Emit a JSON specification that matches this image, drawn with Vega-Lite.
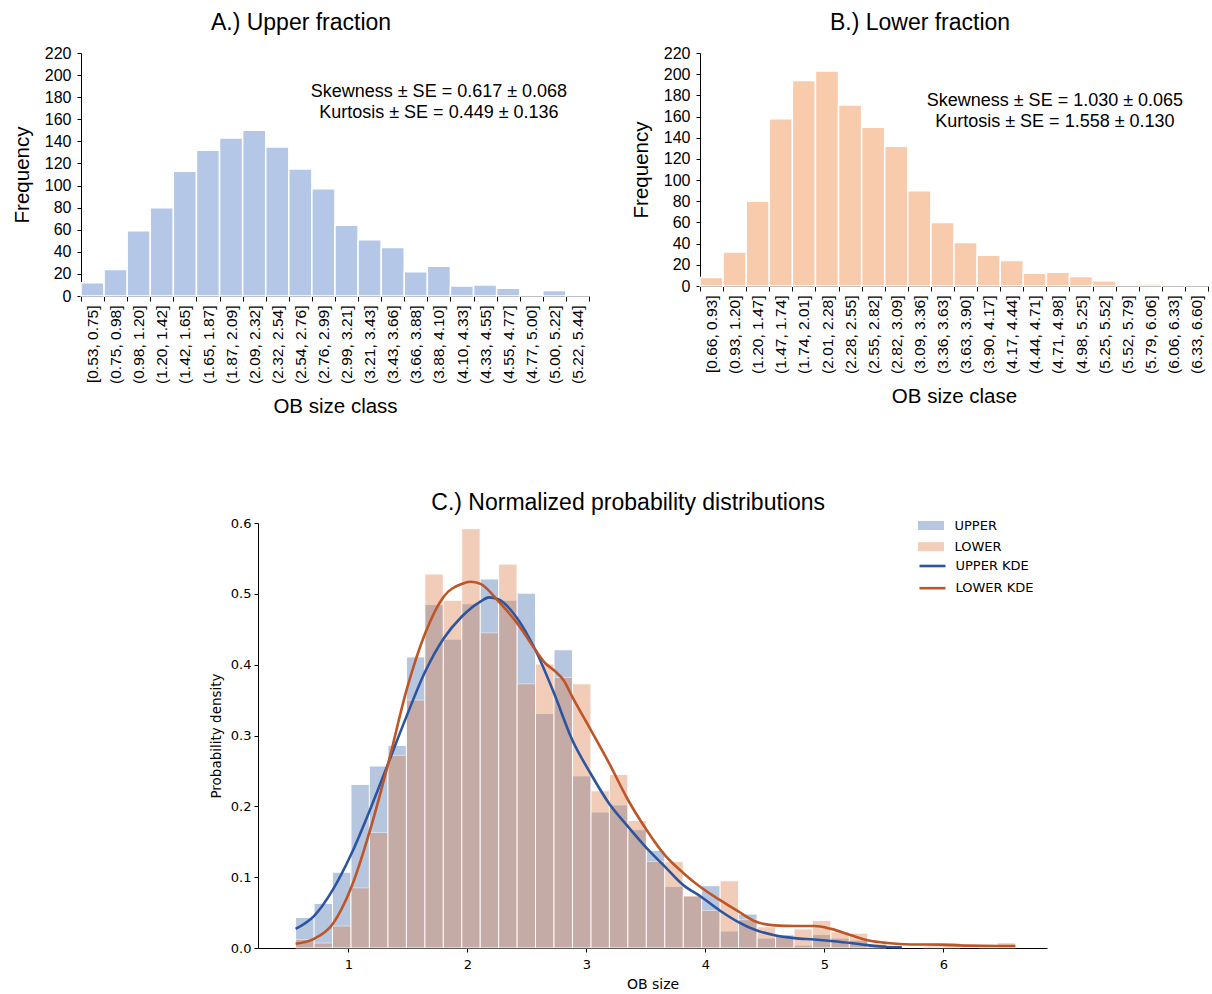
{
  "$schema": "https://vega.github.io/schema/vega-lite/v6.json",
  "background": "white",
  "padding": {"left": 12, "top": 12, "right": 0, "bottom": 0},
  "config": {
    "view": {"stroke": null},
    "font": "Liberation Sans",
    "axis": {"grid": false, "domainColor": "#000", "tickColor": "#000", "labelColor": "#000", "titleColor": "#000", "titleFontWeight": "normal", "labelOverlap": false},
    "axisY": {"labelOverlap": false},
    "axisQuantitative": {"labelOverlap": false},
    "title": {"fontWeight": "normal", "color": "#000", "frame": "bounds"}
  },
  "datasets": {
    "upperCounts": [
      {"cls": "[0.53, 0.75]", "freq": 12}, {"cls": "(0.75, 0.98]", "freq": 24}, {"cls": "(0.98, 1.20]", "freq": 59},
      {"cls": "(1.20, 1.42]", "freq": 80}, {"cls": "(1.42, 1.65]", "freq": 113}, {"cls": "(1.65, 1.87]", "freq": 132},
      {"cls": "(1.87, 2.09]", "freq": 143}, {"cls": "(2.09, 2.32]", "freq": 150}, {"cls": "(2.32, 2.54]", "freq": 135},
      {"cls": "(2.54, 2.76]", "freq": 115}, {"cls": "(2.76, 2.99]", "freq": 97}, {"cls": "(2.99, 3.21]", "freq": 64},
      {"cls": "(3.21, 3.43]", "freq": 51}, {"cls": "(3.43, 3.66]", "freq": 44}, {"cls": "(3.66, 3.88]", "freq": 22},
      {"cls": "(3.88, 4.10]", "freq": 27}, {"cls": "(4.10, 4.33]", "freq": 9}, {"cls": "(4.33, 4.55]", "freq": 10},
      {"cls": "(4.55, 4.77]", "freq": 7}, {"cls": "(4.77, 5.00]", "freq": 1}, {"cls": "(5.00, 5.22]", "freq": 5},
      {"cls": "(5.22, 5.44]", "freq": 1}
    ],
    "lowerCounts": [
      {"cls": "[0.66, 0.93]", "freq": 8}, {"cls": "(0.93, 1.20]", "freq": 32}, {"cls": "(1.20, 1.47]", "freq": 80},
      {"cls": "(1.47, 1.74]", "freq": 158}, {"cls": "(1.74, 2.01]", "freq": 194}, {"cls": "(2.01, 2.28]", "freq": 203},
      {"cls": "(2.28, 2.55]", "freq": 171}, {"cls": "(2.55, 2.82]", "freq": 150}, {"cls": "(2.82, 3.09]", "freq": 132},
      {"cls": "(3.09, 3.36]", "freq": 90}, {"cls": "(3.36, 3.63]", "freq": 60}, {"cls": "(3.63, 3.90]", "freq": 41},
      {"cls": "(3.90, 4.17]", "freq": 29}, {"cls": "(4.17, 4.44]", "freq": 24}, {"cls": "(4.44, 4.71]", "freq": 12},
      {"cls": "(4.71, 4.98]", "freq": 13}, {"cls": "(4.98, 5.25]", "freq": 9}, {"cls": "(5.25, 5.52]", "freq": 5},
      {"cls": "(5.52, 5.79]", "freq": 0}, {"cls": "(5.79, 6.06]", "freq": 2}, {"cls": "(6.06, 6.33]", "freq": 1},
      {"cls": "(6.33, 6.60]", "freq": 1}
    ],
    "annA": [
      {"cls": "(3.88, 4.10]", "freq": 185, "label": "Skewness ± SE = 0.617 ± 0.068"},
      {"cls": "(3.88, 4.10]", "freq": 166, "label": "Kurtosis ± SE = 0.449 ± 0.136"}
    ],
    "annB": [
      {"cls": "(4.71, 4.98]", "freq": 175, "label": "Skewness ± SE = 1.030 ± 0.065"},
      {"cls": "(4.71, 4.98]", "freq": 155, "label": "Kurtosis ± SE = 1.558 ± 0.130"}
    ],
    "histC": [
      {"group": "UPPER", "x0": 0.556, "x1": 0.711, "density": 0.043},
      {"group": "UPPER", "x0": 0.711, "x1": 0.866, "density": 0.063},
      {"group": "UPPER", "x0": 0.866, "x1": 1.021, "density": 0.107},
      {"group": "UPPER", "x0": 1.021, "x1": 1.176, "density": 0.231},
      {"group": "UPPER", "x0": 1.176, "x1": 1.332, "density": 0.257},
      {"group": "UPPER", "x0": 1.332, "x1": 1.487, "density": 0.286},
      {"group": "UPPER", "x0": 1.487, "x1": 1.642, "density": 0.411},
      {"group": "UPPER", "x0": 1.642, "x1": 1.797, "density": 0.485},
      {"group": "UPPER", "x0": 1.797, "x1": 1.952, "density": 0.436},
      {"group": "UPPER", "x0": 1.952, "x1": 2.107, "density": 0.486},
      {"group": "UPPER", "x0": 2.107, "x1": 2.262, "density": 0.521},
      {"group": "UPPER", "x0": 2.262, "x1": 2.417, "density": 0.491},
      {"group": "UPPER", "x0": 2.417, "x1": 2.572, "density": 0.501},
      {"group": "UPPER", "x0": 2.572, "x1": 2.727, "density": 0.331},
      {"group": "UPPER", "x0": 2.727, "x1": 2.883, "density": 0.421},
      {"group": "UPPER", "x0": 2.883, "x1": 3.038, "density": 0.243},
      {"group": "UPPER", "x0": 3.038, "x1": 3.193, "density": 0.192},
      {"group": "UPPER", "x0": 3.193, "x1": 3.348, "density": 0.202},
      {"group": "UPPER", "x0": 3.348, "x1": 3.503, "density": 0.167},
      {"group": "UPPER", "x0": 3.503, "x1": 3.658, "density": 0.138},
      {"group": "UPPER", "x0": 3.658, "x1": 3.813, "density": 0.087},
      {"group": "UPPER", "x0": 3.813, "x1": 3.968, "density": 0.073},
      {"group": "UPPER", "x0": 3.968, "x1": 4.123, "density": 0.088},
      {"group": "UPPER", "x0": 4.123, "x1": 4.278, "density": 0.024},
      {"group": "UPPER", "x0": 4.278, "x1": 4.434, "density": 0.048},
      {"group": "UPPER", "x0": 4.434, "x1": 4.589, "density": 0.014},
      {"group": "UPPER", "x0": 4.589, "x1": 4.744, "density": 0.019},
      {"group": "UPPER", "x0": 4.744, "x1": 4.899, "density": 0.004},
      {"group": "UPPER", "x0": 4.899, "x1": 5.054, "density": 0.019},
      {"group": "UPPER", "x0": 5.054, "x1": 5.209, "density": 0.014},
      {"group": "UPPER", "x0": 5.209, "x1": 5.364, "density": 0.011},
      {"group": "UPPER", "x0": 5.364, "x1": 5.519, "density": 0.004},
      {"group": "LOWER", "x0": 0.556, "x1": 0.711, "density": 0.012},
      {"group": "LOWER", "x0": 0.711, "x1": 0.866, "density": 0.007},
      {"group": "LOWER", "x0": 0.866, "x1": 1.021, "density": 0.031},
      {"group": "LOWER", "x0": 1.021, "x1": 1.176, "density": 0.085},
      {"group": "LOWER", "x0": 1.176, "x1": 1.332, "density": 0.163},
      {"group": "LOWER", "x0": 1.332, "x1": 1.487, "density": 0.272},
      {"group": "LOWER", "x0": 1.487, "x1": 1.642, "density": 0.350},
      {"group": "LOWER", "x0": 1.642, "x1": 1.797, "density": 0.528},
      {"group": "LOWER", "x0": 1.797, "x1": 1.952, "density": 0.491},
      {"group": "LOWER", "x0": 1.952, "x1": 2.107, "density": 0.592},
      {"group": "LOWER", "x0": 2.107, "x1": 2.262, "density": 0.445},
      {"group": "LOWER", "x0": 2.262, "x1": 2.417, "density": 0.542},
      {"group": "LOWER", "x0": 2.417, "x1": 2.572, "density": 0.373},
      {"group": "LOWER", "x0": 2.572, "x1": 2.727, "density": 0.401},
      {"group": "LOWER", "x0": 2.727, "x1": 2.883, "density": 0.382},
      {"group": "LOWER", "x0": 2.883, "x1": 3.038, "density": 0.373},
      {"group": "LOWER", "x0": 3.038, "x1": 3.193, "density": 0.222},
      {"group": "LOWER", "x0": 3.193, "x1": 3.348, "density": 0.245},
      {"group": "LOWER", "x0": 3.348, "x1": 3.503, "density": 0.180},
      {"group": "LOWER", "x0": 3.503, "x1": 3.658, "density": 0.122},
      {"group": "LOWER", "x0": 3.658, "x1": 3.813, "density": 0.122},
      {"group": "LOWER", "x0": 3.813, "x1": 3.968, "density": 0.074},
      {"group": "LOWER", "x0": 3.968, "x1": 4.123, "density": 0.053},
      {"group": "LOWER", "x0": 4.123, "x1": 4.278, "density": 0.095},
      {"group": "LOWER", "x0": 4.278, "x1": 4.434, "density": 0.040},
      {"group": "LOWER", "x0": 4.434, "x1": 4.589, "density": 0.030},
      {"group": "LOWER", "x0": 4.589, "x1": 4.744, "density": 0.017},
      {"group": "LOWER", "x0": 4.744, "x1": 4.899, "density": 0.027},
      {"group": "LOWER", "x0": 4.899, "x1": 5.054, "density": 0.039},
      {"group": "LOWER", "x0": 5.054, "x1": 5.209, "density": 0.023},
      {"group": "LOWER", "x0": 5.209, "x1": 5.364, "density": 0.021},
      {"group": "LOWER", "x0": 5.364, "x1": 5.519, "density": 0.006},
      {"group": "LOWER", "x0": 5.829, "x1": 5.985, "density": 0.003},
      {"group": "LOWER", "x0": 5.985, "x1": 6.140, "density": 0.0075},
      {"group": "LOWER", "x0": 6.295, "x1": 6.450, "density": 0.003},
      {"group": "LOWER", "x0": 6.450, "x1": 6.605, "density": 0.0075}
    ],
    "kde": [
      {"group": "UPPER KDE", "x": 0.556, "density": 0.027},
      {"group": "UPPER KDE", "x": 0.71, "density": 0.045},
      {"group": "UPPER KDE", "x": 0.868, "density": 0.082},
      {"group": "UPPER KDE", "x": 1.025, "density": 0.133},
      {"group": "UPPER KDE", "x": 1.181, "density": 0.195},
      {"group": "UPPER KDE", "x": 1.335, "density": 0.261},
      {"group": "UPPER KDE", "x": 1.488, "density": 0.327},
      {"group": "UPPER KDE", "x": 1.644, "density": 0.39},
      {"group": "UPPER KDE", "x": 1.80, "density": 0.437},
      {"group": "UPPER KDE", "x": 1.953, "density": 0.468},
      {"group": "UPPER KDE", "x": 2.109, "density": 0.489},
      {"group": "UPPER KDE", "x": 2.18, "density": 0.495},
      {"group": "UPPER KDE", "x": 2.263, "density": 0.492},
      {"group": "UPPER KDE", "x": 2.416, "density": 0.466},
      {"group": "UPPER KDE", "x": 2.57, "density": 0.421},
      {"group": "UPPER KDE", "x": 2.727, "density": 0.360},
      {"group": "UPPER KDE", "x": 2.88, "density": 0.294},
      {"group": "UPPER KDE", "x": 3.036, "density": 0.246},
      {"group": "UPPER KDE", "x": 3.19, "density": 0.204},
      {"group": "UPPER KDE", "x": 3.346, "density": 0.172},
      {"group": "UPPER KDE", "x": 3.506, "density": 0.141},
      {"group": "UPPER KDE", "x": 3.659, "density": 0.115},
      {"group": "UPPER KDE", "x": 3.813, "density": 0.089},
      {"group": "UPPER KDE", "x": 3.966, "density": 0.072},
      {"group": "UPPER KDE", "x": 4.12, "density": 0.053},
      {"group": "UPPER KDE", "x": 4.273, "density": 0.037},
      {"group": "UPPER KDE", "x": 4.427, "density": 0.025},
      {"group": "UPPER KDE", "x": 4.58, "density": 0.018},
      {"group": "UPPER KDE", "x": 4.748, "density": 0.014},
      {"group": "UPPER KDE", "x": 4.916, "density": 0.012},
      {"group": "UPPER KDE", "x": 5.055, "density": 0.0099},
      {"group": "UPPER KDE", "x": 5.223, "density": 0.007},
      {"group": "UPPER KDE", "x": 5.363, "density": 0.004},
      {"group": "UPPER KDE", "x": 5.53, "density": 0.0015},
      {"group": "UPPER KDE", "x": 5.65, "density": 0.001},
      {"group": "LOWER KDE", "x": 0.556, "density": 0.006},
      {"group": "LOWER KDE", "x": 0.71, "density": 0.013},
      {"group": "LOWER KDE", "x": 0.868, "density": 0.034},
      {"group": "LOWER KDE", "x": 1.025, "density": 0.086},
      {"group": "LOWER KDE", "x": 1.181, "density": 0.166},
      {"group": "LOWER KDE", "x": 1.335, "density": 0.261},
      {"group": "LOWER KDE", "x": 1.488, "density": 0.364},
      {"group": "LOWER KDE", "x": 1.644, "density": 0.444},
      {"group": "LOWER KDE", "x": 1.80, "density": 0.496},
      {"group": "LOWER KDE", "x": 1.953, "density": 0.514},
      {"group": "LOWER KDE", "x": 2.026, "density": 0.517},
      {"group": "LOWER KDE", "x": 2.109, "density": 0.514},
      {"group": "LOWER KDE", "x": 2.263, "density": 0.489},
      {"group": "LOWER KDE", "x": 2.416, "density": 0.459},
      {"group": "LOWER KDE", "x": 2.57, "density": 0.421},
      {"group": "LOWER KDE", "x": 2.654, "density": 0.402},
      {"group": "LOWER KDE", "x": 2.727, "density": 0.392},
      {"group": "LOWER KDE", "x": 2.808, "density": 0.378},
      {"group": "LOWER KDE", "x": 2.88, "density": 0.355},
      {"group": "LOWER KDE", "x": 3.036, "density": 0.308},
      {"group": "LOWER KDE", "x": 3.19, "density": 0.261},
      {"group": "LOWER KDE", "x": 3.346, "density": 0.210},
      {"group": "LOWER KDE", "x": 3.5, "density": 0.168},
      {"group": "LOWER KDE", "x": 3.659, "density": 0.131},
      {"group": "LOWER KDE", "x": 3.813, "density": 0.106},
      {"group": "LOWER KDE", "x": 3.966, "density": 0.085},
      {"group": "LOWER KDE", "x": 4.12, "density": 0.068},
      {"group": "LOWER KDE", "x": 4.273, "density": 0.052},
      {"group": "LOWER KDE", "x": 4.427, "density": 0.037},
      {"group": "LOWER KDE", "x": 4.58, "density": 0.032},
      {"group": "LOWER KDE", "x": 4.748, "density": 0.031},
      {"group": "LOWER KDE", "x": 4.916, "density": 0.031},
      {"group": "LOWER KDE", "x": 5.055, "density": 0.027},
      {"group": "LOWER KDE", "x": 5.223, "density": 0.018},
      {"group": "LOWER KDE", "x": 5.363, "density": 0.011},
      {"group": "LOWER KDE", "x": 5.53, "density": 0.007},
      {"group": "LOWER KDE", "x": 5.72, "density": 0.005},
      {"group": "LOWER KDE", "x": 5.97, "density": 0.0047},
      {"group": "LOWER KDE", "x": 6.2, "density": 0.0033},
      {"group": "LOWER KDE", "x": 6.605, "density": 0.0028}
    ]
  },
  "spacing": 75,
  "vconcat": [
    {
      "spacing": 41,
      "hconcat": [
        {
          "width": 508,
          "height": 243,
          "title": {"text": "A.) Upper fraction", "font": "Liberation Sans", "fontSize": 23, "offset": 10},
          "layer": [
            {
              "data": {"name": "upperCounts"},
              "mark": {"type": "bar", "fill": "#b4c7e7", "stroke": "white", "strokeWidth": 1.5},
              "encoding": {
                "x": {"field": "cls", "type": "ordinal", "sort": null,
                  "scale": {"paddingInner": 0, "paddingOuter": 0},
                  "axis": {"title": "OB size class", "titleFontSize": 20.5, "titlePadding": 13, "labelAngle": -90, "labelFontSize": 15.5, "labelPadding": 4, "tickBand": "extent", "tickSize": 5, "labelOverlap": false}},
                "y": {"field": "freq", "type": "quantitative",
                  "scale": {"domain": [0, 220], "nice": false},
                  "axis": {"title": "Frequency", "titleFontSize": 20.5, "titlePadding": 12, "labelFontSize": 16, "labelPadding": 6, "tickSize": 4, "labelOverlap": false, "tickCount": 12, "values": [0, 20, 40, 60, 80, 100, 120, 140, 160, 180, 200, 220]}}
              }
            },
            {
              "data": {"name": "annA"},
              "mark": {"type": "text", "fontSize": 18, "font": "Liberation Sans", "align": "center", "baseline": "middle", "dx": 0, "color": "#000"},
              "encoding": {
                "x": {"field": "cls", "type": "ordinal", "sort": null},
                "y": {"field": "freq", "type": "quantitative"},
                "text": {"field": "label"}
              }
            }
          ]
        },
        {
          "width": 508,
          "height": 233,
          "title": {"text": "B.) Lower fraction", "font": "Liberation Sans", "fontSize": 23, "offset": 10},
          "layer": [
            {
              "data": {"name": "lowerCounts"},
              "mark": {"type": "bar", "fill": "#f8cbad", "stroke": "white", "strokeWidth": 1.5},
              "encoding": {
                "x": {"field": "cls", "type": "ordinal", "sort": null,
                  "scale": {"paddingInner": 0, "paddingOuter": 0},
                  "axis": {"title": "OB size clase", "titleFontSize": 20.5, "titlePadding": 13, "labelAngle": -90, "labelFontSize": 15.5, "labelPadding": 4, "tickBand": "extent", "tickSize": 5, "labelOverlap": false}},
                "y": {"field": "freq", "type": "quantitative",
                  "scale": {"domain": [0, 220], "nice": false},
                  "axis": {"title": "Frequency", "titleFontSize": 20.5, "titlePadding": 12, "labelFontSize": 16, "labelPadding": 6, "tickSize": 4, "labelOverlap": false, "tickCount": 12, "values": [0, 20, 40, 60, 80, 100, 120, 140, 160, 180, 200, 220]}}
              }
            },
            {
              "data": {"name": "annB"},
              "mark": {"type": "text", "fontSize": 18, "font": "Liberation Sans", "align": "center", "baseline": "middle", "dx": -3, "color": "#000"},
              "encoding": {
                "x": {"field": "cls", "type": "ordinal", "sort": null},
                "y": {"field": "freq", "type": "quantitative"},
                "text": {"field": "label"}
              }
            }
          ]
        }
      ]
    },
    {
      "spacing": 0,
      "hconcat": [
        {
          "width": 128,
          "height": 10,
          "data": {"values": []},
          "mark": {"type": "point", "opacity": 0}
        },
        {
          "width": 789,
          "height": 425,
          "title": {"text": "C.) Normalized probability distributions", "font": "Liberation Sans", "fontSize": 23, "offset": 2},
          "layer": [
            {
              "data": {"name": "histC"},
              "mark": {"type": "rect", "opacity": 0.4, "stroke": "white", "strokeWidth": 1},
              "encoding": {
                "x": {"field": "x0", "type": "quantitative",
                  "scale": {"domain": [0.24, 6.87], "nice": false, "zero": false},
                  "axis": {"title": "OB size", "titleFont": "DejaVu Sans", "titleFontSize": 14, "titlePadding": 6, "labelFont": "DejaVu Sans", "labelFontSize": 13, "labelPadding": 6, "tickSize": 4, "values": [1, 2, 3, 4, 5, 6], "format": "d", "labelFlush": false, "labelOverlap": false}},
                "x2": {"field": "x1"},
                "y": {"field": "density", "type": "quantitative",
                  "scale": {"domain": [0, 0.6], "nice": false},
                  "axis": {"title": "Probability density", "titleFont": "DejaVu Sans", "titleFontSize": 13.5, "titlePadding": 7, "labelFont": "DejaVu Sans", "labelFontSize": 13, "labelPadding": 3, "tickSize": 4, "values": [0, 0.1, 0.2, 0.3, 0.4, 0.5, 0.6], "format": ".1f", "labelFlush": false, "labelOverlap": false}},
                "y2": {"datum": 0},
                "fill": {"field": "group", "type": "nominal",
                  "scale": {"domain": ["UPPER", "LOWER"], "range": ["#4c72b0", "#dd8452"]},
                  "legend": {"title": null, "orient": "none", "legendX": 843.5, "legendY": 466, "padding": 0,
                    "symbolType": "M-2,-0.7H2V0.7H-2Z", "symbolSize": 169, "symbolOpacity": 0.4, "symbolStrokeWidth": 0,
                    "labelFont": "DejaVu Sans", "labelFontSize": 13, "labelColor": "#000", "labelOffset": 17, "rowPadding": 7.2}}
              }
            },
            {
              "data": {"name": "kde"},
              "mark": {"type": "line", "strokeWidth": 2.6, "interpolate": "monotone"},
              "encoding": {
                "x": {"field": "x", "type": "quantitative"},
                "y": {"field": "density", "type": "quantitative"},
                "stroke": {"field": "group", "type": "nominal",
                  "scale": {"domain": ["UPPER KDE", "LOWER KDE"], "range": ["#2c55a0", "#bd5526"]},
                  "legend": {"title": null, "orient": "none", "legendX": 843.5, "legendY": 505, "padding": 0,
                    "symbolType": "M-2,0H2", "symbolSize": 169, "symbolStrokeWidth": 2.6, "symbolFillColor": "transparent",
                    "labelFont": "DejaVu Sans", "labelFontSize": 13, "labelColor": "#000", "labelOffset": 15, "rowPadding": 7.2}}
              }
            }
          ]
        }
      ]
    }
  ]
}
